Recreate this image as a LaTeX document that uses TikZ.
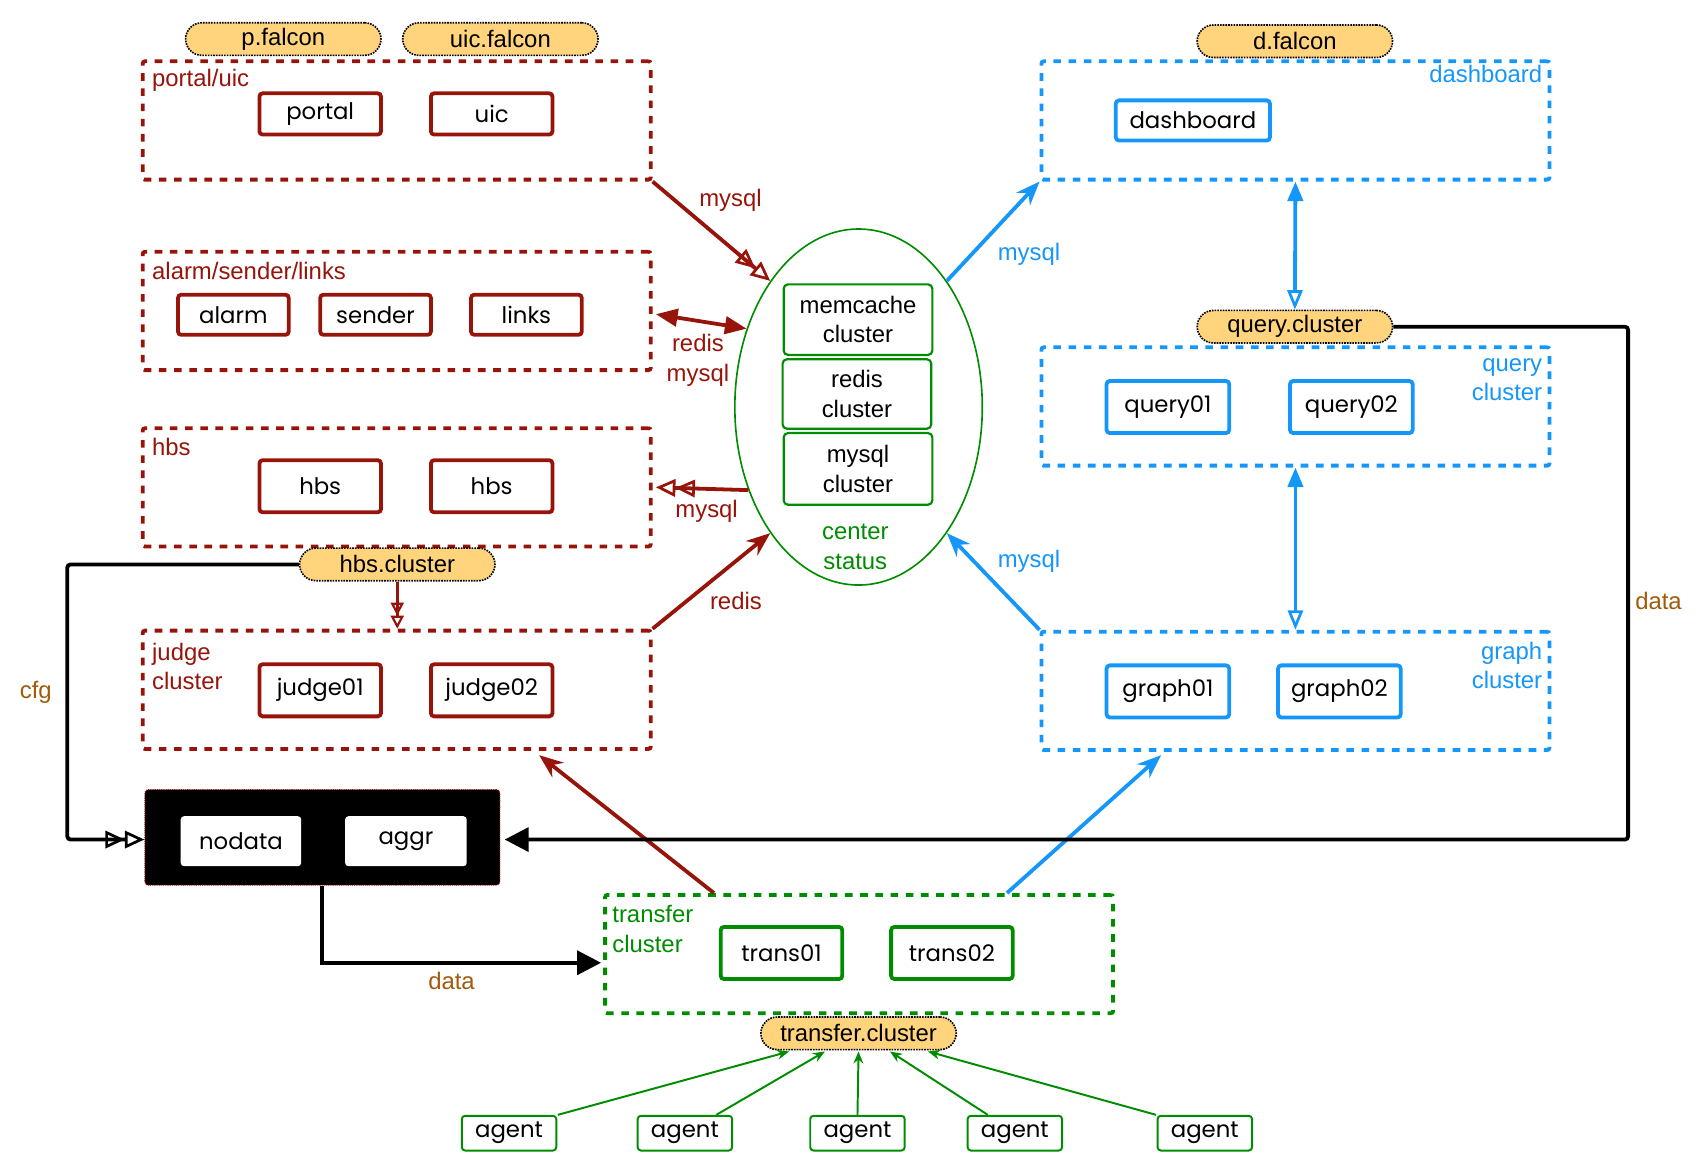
\documentclass[tikz,border=0pt]{standalone}
\usepackage{fontspec}
\setmainfont{Liberation Sans}
\newfontfamily\gothic{Poppins}
\usetikzlibrary{shapes,arrows.meta,positioning,calc}
\definecolor{fred}{RGB}{150,20,10}
\definecolor{fblue}{RGB}{20,150,250}
\definecolor{fgreen}{RGB}{0,140,0}
\definecolor{fbrown}{RGB}{160,90,10}
\definecolor{tagfill}{RGB}{255,212,125}

\begin{document}
\begin{tikzpicture}[x=1pt, y=-1pt,
    every node/.style={font=\fontsize{22}{27}\selectfont, inner sep=1pt},
    grp/.style={draw, line width=3.5pt, dash pattern=on 7pt off 7pt, rounded corners=2pt, minimum width=468pt, minimum height=109pt},
    svc/.style={draw, line width=3.5pt, rounded corners=3pt, text=black, font=\gothic\fontsize{21}{26}\selectfont, minimum width=112pt, minimum height=48pt},
    tag/.style={draw=black, densely dotted, line width=1.5pt, fill=tagfill, rounded corners=15pt, minimum width=180pt, minimum height=30pt},
    store/.style={draw=fgreen, line width=2pt, rounded corners=4pt, align=center, minimum width=137pt, minimum height=65pt},
    note/.style={align=left},
    wire/.style={line width=3.5pt},
    dbl/.style={-{Triangle[open, length=18pt, width=16pt, line width=2.5pt]Triangle[open, length=18pt, width=16pt, line width=2.5pt]}}]
    \useasboundingbox (0,0) rectangle (1569,1083);

    % groups
    \node [grp, draw=fred] (portalgrp) at (365.5,111) {};
    \node [grp, draw=fred] (alarmgrp) at (365.5,286.5) {};
    \node [grp, draw=fred] (hbsgrp) at (365.5,449) {};
    \node [grp, draw=fred] (judgegrp) at (365.5,635.5) {};
    \node [grp, draw=fblue] (dashgrp) at (1193.5,111) {};
    \node [grp, draw=fblue] (querygrp) at (1193.5,374.5) {};
    \node [grp, draw=fblue] (graphgrp) at (1193.5,636.5) {};
    \node [grp, draw=fgreen] (transgrp) at (791.5,879) {};

    \node [note, text=fred, anchor=west] (portallbl) at (139,74) {portal/uic};
    \node [note, text=fred, anchor=west] (alarmlbl) at (139,250) {alarm/sender/links};
    \node [note, text=fred, anchor=west] (hbslbl) at (139,412) {hbs};
    \node [note, text=fred, anchor=west] (judgelbl) at (139,614) {judge\\cluster};
    \node [note, text=fblue, anchor=east] (dashlbl) at (1422,68) {dashboard};
    \node [note, text=fblue, anchor=east, align=right] (querylbl) at (1422,350) {query\\cluster};
    \node [note, text=fblue, anchor=east, align=right] (graphlbl) at (1422,613) {graph\\cluster};
    \node [note, text=fgreen, anchor=west] (translbl) at (563,856) {transfer\\cluster};

    % services
    \node [svc, draw=fred, minimum height=38pt] (portal) at (295,105) {portal};
    \node [svc, draw=fred, minimum height=38pt] (uic) at (453,105) {uic};
    \node [svc, draw=fred, minimum width=102pt, minimum height=37pt] (alarm) at (215,290) {alarm};
    \node [svc, draw=fred, minimum width=102pt, minimum height=37pt] (sender) at (346,290) {sender};
    \node [svc, draw=fred, minimum width=102pt, minimum height=37pt] (links) at (485,290) {links};
    \node [svc, draw=fred] (hbsa) at (295,448) {hbs};
    \node [svc, draw=fred] (hbsb) at (453,448) {hbs};
    \node [svc, draw=fred] (judgea) at (295,636) {judge01};
    \node [svc, draw=fred] (judgeb) at (453,636) {judge02};
    \node [svc, draw=fblue, minimum width=142pt, minimum height=37pt] (dash) at (1099,111) {dashboard};
    \node [svc, draw=fblue, minimum width=113pt] (querya) at (1076,375) {query01};
    \node [svc, draw=fblue, minimum width=113pt] (queryb) at (1245,375) {query02};
    \node [svc, draw=fblue, minimum width=113pt] (grapha) at (1076,637) {graph01};
    \node [svc, draw=fblue, minimum width=113pt] (graphb) at (1234,637) {graph02};
    \node [svc, draw=fgreen] (transa) at (720,878) {trans01};
    \node [svc, draw=fgreen] (transb) at (877,878) {trans02};

    % nodata / aggr
    \node [draw=fred, densely dotted, line width=1pt, fill=black, rounded corners=3pt, minimum width=327pt, minimum height=88pt] (agg) at (297,771.5) {};
    \node [svc, draw=none, fill=white, minimum width=111pt, minimum height=46pt] (nodata) at (222,775) {nodata};
    \node [svc, draw=none, fill=white, minimum width=112pt, minimum height=46pt] (aggr) at (374,775) {aggr};

    % center status
    \node [ellipse, draw=fgreen, line width=1.5pt, minimum width=228pt, minimum height=328pt] (center) at (791,375) {};
    \node [store] (memcache) at (790.5,294.5) {memcache\\cluster};
    \node [store, minimum height=64pt] (redis) at (789.5,363) {redis\\cluster};
    \node [store, minimum height=66pt] (mysql) at (790.5,432) {mysql\\cluster};
    \node [note, text=fgreen, align=center] (centerlbl) at (788,504) {center\\status};

    % tags
    \node [tag] (ptag) at (261,36) {p.falcon};
    \node [tag] (uictag) at (461,36) {uic.falcon};
    \node [tag] (dtag) at (1193,38) {d.falcon};
    \node [tag] (qtag) at (1193,301) {query.cluster};
    \node [tag] (htag) at (366,520) {hbs.cluster};
    \node [tag] (ttag) at (791,952) {transfer.cluster};

    % agents
    \foreach \x [count=\i] in {469, 631, 790, 935, 1110} {
        \node [svc, draw=fgreen, line width=1.8pt, minimum width=87pt, minimum height=32pt] (agent\i) at (\x,1044) {agent};
    }
    \foreach \s/\t [count=\i] in {45/-64, 29/-31, 0/0, -25/29, -45/64} {
        \draw [fgreen, line width=1.8pt, -{Stealth[length=11pt, width=9pt]}] ($(agent\i.north)+(\s,0)$) -- ($(ttag.south)+(\t,1)$);
    }

    % red side
    \draw [wire, fred, dbl] (portalgrp.south east) -- (center.125);
    \draw [wire, fred, {Triangle[length=20pt, width=16pt]}-{Triangle[length=20pt, width=16pt]}] ($(alarmgrp.east)+(3,3)$) -- (center.145);
    \draw [wire, fred, dbl] (center.217) -- ($(hbsgrp.east)+(3,0)$);
    \draw [wire, fred, -{Stealth[length=22pt, width=17pt]}] (judgegrp.north east) -- (center.235);
    \draw [fred, line width=3pt, -{Triangle[open, length=12pt, width=12pt, line width=2pt]Triangle[open, length=12pt, width=12pt, line width=2pt]}] (htag.south) -- (judgegrp.north -| htag.south);
    \draw [wire, fred, -{Stealth[length=22pt, width=17pt]}] ($(transgrp.north west)+(102,0)$) -- ($(judgegrp.south west)+(367,4)$);

    \node [text=fred] (mysqla) at (673,185) {mysql};
    \node [text=fred, align=center] (redismysql) at (643,332) {redis\\mysql};
    \node [text=fred] (mysqlb) at (651,471) {mysql};
    \node [text=fred] (redisa) at (678,554) {redis};

    % blue side
    \draw [wire, fblue, -{Stealth[length=22pt, width=17pt]}] (center.55) -- (dashgrp.south west);
    \draw [wire, fblue, -{Stealth[length=22pt, width=17pt]}] (graphgrp.north west) -- (center.305);
    \draw [wire, fblue, {Triangle[length=18pt, width=14pt]}-{Triangle[open, length=18pt, width=14pt, line width=2.5pt]}] (dashgrp.south) -- (qtag.north);
    \draw [wire, fblue, {Triangle[length=18pt, width=14pt]}-{Triangle[open, length=18pt, width=14pt, line width=2.5pt]}] (querygrp.south) -- (graphgrp.north);
    \draw [wire, fblue, -{Stealth[length=22pt, width=17pt]}] ($(transgrp.north west)+(372,0)$) -- ($(graphgrp.south west)+(112,3)$);

    \node [text=fblue] (mysqlc) at (948,234) {mysql};
    \node [text=fblue] (mysqld) at (948,517) {mysql};

    % black links
    \coordinate (cfgturn) at (62,0);
    \coordinate (dataturn) at (1500,0);
    \draw [wire, rounded corners=3pt, dbl] (htag.west) -- (htag.west -| cfgturn) |- ($(agg.west)+(0,2)$);
    \draw [wire, rounded corners=3pt, -{Triangle[length=22pt, width=22pt]}, shorten >=4pt] (qtag.east) -- (qtag.east -| dataturn) |- ($(agg.east)+(0,2)$);
    \draw [wire, -{Triangle[length=22pt, width=22pt]}, shorten >=2pt] (agg.south) |- ($(transgrp.west)+(0,8)$);

    \node [text=fbrown] (cfglbl) at (33,638) {cfg};
    \node [text=fbrown] (datalbla) at (1528,554) {data};
    \node [text=fbrown] (datalblb) at (416,904) {data};
\end{tikzpicture}
\end{document}
